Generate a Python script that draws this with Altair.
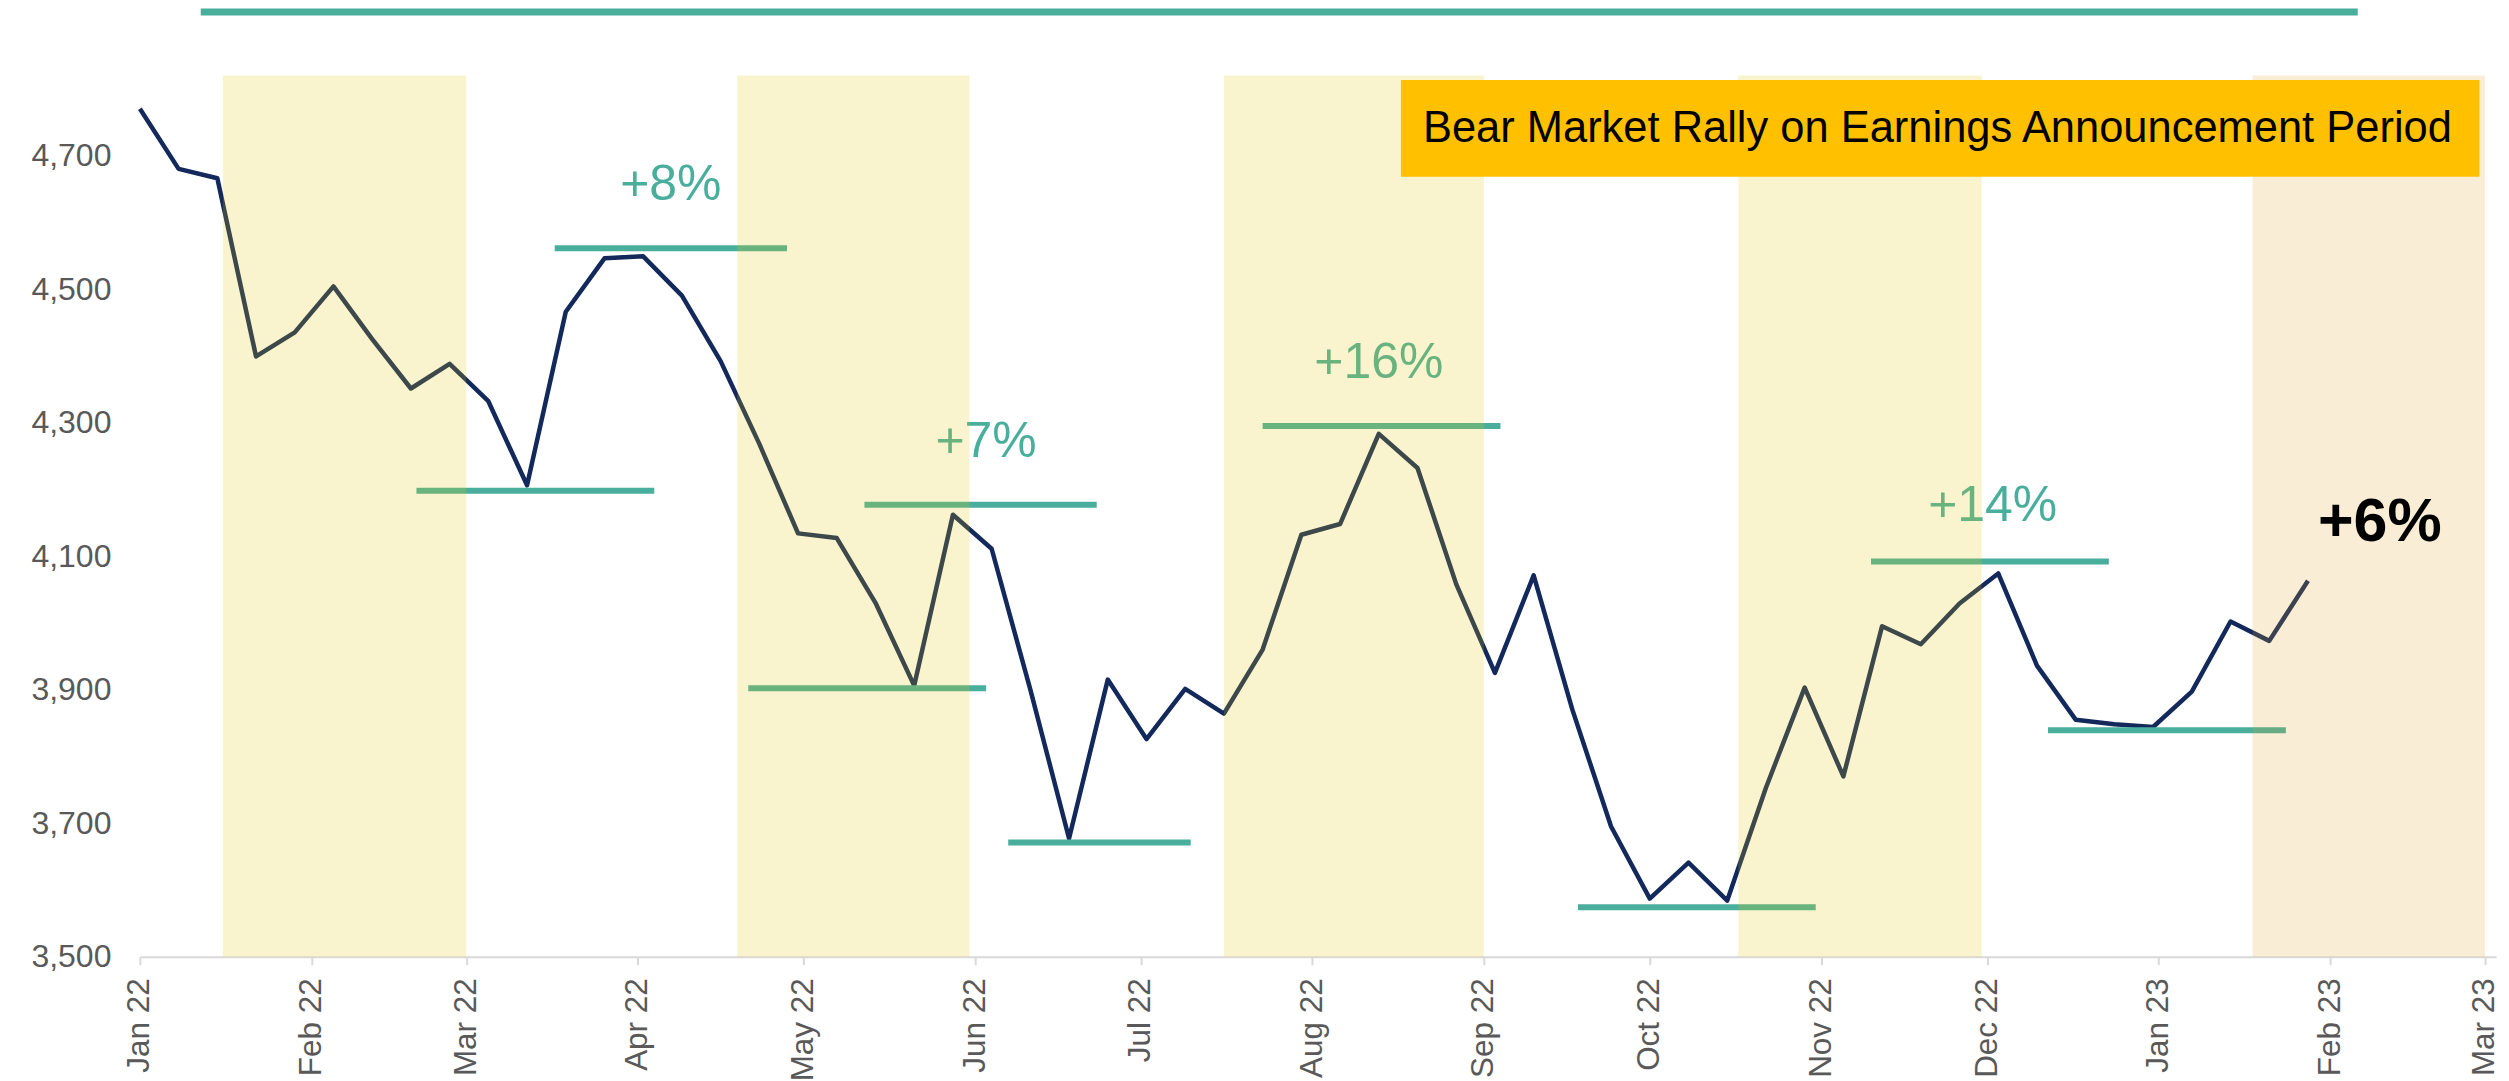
import altair as alt
import pandas as pd

# ---------------- data ----------------
week_dates = [d.strftime("%Y-%m-%d") for d in pd.date_range("2022-01-01", periods=57, freq="7D")]
sp500 = [4770, 4680, 4666, 4399, 4435, 4504, 4425, 4351, 4388, 4332,
         4206, 4466, 4546, 4549, 4490, 4392, 4268, 4134, 4127, 4030,
         3906, 4162, 4111, 3900, 3677, 3915, 3826, 3901, 3864, 3960,
         4132, 4148, 4283, 4232, 4058, 3925, 4071, 3870, 3695, 3587,
         3641, 3584, 3753, 3903, 3770, 3995, 3968, 4029, 4074, 3936,
         3855, 3848, 3844, 3897, 4002, 3973, 4063]

band_starts = ["2022-01-16", "2022-04-19", "2022-07-16", "2022-10-17", "2023-01-18"]
band_ends = ["2022-03-01", "2022-05-31", "2022-09-01", "2022-11-30", "2023-03-01"]
band_kind = ["past", "past", "past", "past", "current"]

level_starts = ["2022-02-20", "2022-03-17", "2022-04-21", "2022-05-12", "2022-06-07",
                "2022-07-23", "2022-09-18", "2022-11-10", "2022-12-12"]
level_ends = ["2022-04-04", "2022-04-28", "2022-06-03", "2022-06-23", "2022-07-10",
              "2022-09-04", "2022-10-31", "2022-12-23", "2023-01-24"]
level_values = [4198, 4561, 3902, 4177, 3671, 4295, 3574, 4092, 3839]

gain_labels = ["+8%", "+7%", "+16%", "+14%"]
gain_dates = ["2022-04-07", "2022-06-03", "2022-08-13", "2022-12-02"]
gain_values = [4634, 4249, 4366, 4152]

latest_label = ["+6%"]
latest_date = ["2023-02-10"]
latest_value = [4123]

box_text = ["Bear Market Rally on Earnings Announcement Period"]
box_start = ["2022-08-17"]
box_end = ["2023-02-28"]
box_low = [4668]
box_high = [4813]
box_text_date = ["2022-11-22"]
box_text_value = [4720]

top_bar_start = ["2022-01-12"]
top_bar_end = ["2023-02-06"]
top_bar_value = [4915]

y_ticks = [3500, 3700, 3900, 4100, 4300, 4500, 4700]
x_tick_months = [(2022, m) for m in range(1, 13)] + [(2023, 1), (2023, 2), (2023, 3)]

# ---------------- styling ----------------
FONT = "Liberation Sans"
NAVY = "#13295c"
TEAL = "#4aae9c"

line_df = pd.DataFrame({"date": week_dates, "value": sp500})
band_df = pd.DataFrame({"start": band_starts, "end": band_ends, "kind": band_kind})
level_df = pd.DataFrame({"start": level_starts, "end": level_ends, "value": level_values})
gain_df = pd.DataFrame({"label": gain_labels, "date": gain_dates, "value": gain_values})
latest_df = pd.DataFrame({"label": latest_label, "date": latest_date, "value": latest_value})
box_df = pd.DataFrame({"start": box_start, "end": box_end, "low": box_low, "high": box_high})
box_text_df = pd.DataFrame({"label": box_text, "date": box_text_date, "value": box_text_value})
top_df = pd.DataFrame({"start": top_bar_start, "end": top_bar_end, "value": top_bar_value})

x_scale = alt.Scale(
    type="utc",
    domain=[alt.DateTime(year=2022, month=1, date=1, utc=True),
            alt.DateTime(year=2023, month=3, date=3, utc=True)],
    nice=False,
)
y_scale = alt.Scale(domain=[3500, 4820], zero=False, nice=False)

x_axis = alt.Axis(
    values=[alt.DateTime(year=y, month=m, date=1, utc=True) for y, m in x_tick_months],
    labelExpr="utcFormat(datum.value, '%b %y')", labelAngle=270, labelFont=FONT,
    labelFontSize=31.5, labelColor="#595959", tickSize=8, tickColor="#d9d9d9",
    tickWidth=2, domainColor="#d9d9d9", domainWidth=2, labelPadding=13,
    grid=False, title=None, labelFlush=False, labelOverlap=False,
)
y_axis = alt.Axis(
    values=y_ticks, format=",d", labelFont=FONT, labelFontSize=32,
    labelColor="#595959", ticks=False, tickSize=0, domain=False, grid=False,
    labelPadding=29, title=None,
)

line = alt.Chart(line_df).mark_line(color=NAVY, strokeWidth=4.5, strokeJoin="round").encode(
    x=alt.X("date:T", scale=x_scale, axis=x_axis),
    y=alt.Y("value:Q", scale=y_scale, axis=y_axis),
)

levels = alt.Chart(level_df).mark_rule(color=TEAL, strokeWidth=6, strokeCap="butt").encode(
    x="start:T", x2="end:T", y="value:Q"
)

gains = alt.Chart(gain_df).mark_text(
    color=TEAL, font=FONT, fontSize=50, align="center", baseline="alphabetic"
).encode(x="date:T", y="value:Q", text="label:N")

bands = alt.Chart(band_df).mark_rect(opacity=0.2).encode(
    x="start:T", x2="end:T",
    y=alt.datum(4820), y2=alt.datum(3500),
    color=alt.Color("kind:N", scale=alt.Scale(domain=["past", "current"],
                                              range=["#e6c80a", "#e1a52d"]), legend=None),
)

box = alt.Chart(box_df).mark_rect(color="#ffc000").encode(
    x="start:T", x2="end:T", y="low:Q", y2="high:Q"
)

box_label = alt.Chart(box_text_df).mark_text(
    color="#000000", font=FONT, fontSize=43.5, align="center", baseline="alphabetic"
).encode(x="date:T", y="value:Q", text="label:N")

latest = alt.Chart(latest_df).mark_text(
    color="#000000", font=FONT, fontSize=61, fontWeight="bold", align="center",
    baseline="alphabetic"
).encode(x="date:T", y="value:Q", text="label:N")

top_bar = alt.Chart(top_df).mark_rule(color=TEAL, strokeWidth=7, strokeCap="butt").encode(
    x="start:T", x2="end:T", y="value:Q"
)

chart = alt.layer(
    line, levels, gains, bands, box, box_label, latest, top_bar
).properties(
    width=2358, height=882,
    padding={"left": 22, "top": 0, "right": 0, "bottom": 0},
    background="white",
).configure_view(stroke=None)

chart.save("out.html", embed_options={"renderer": "svg", "actions": False})
